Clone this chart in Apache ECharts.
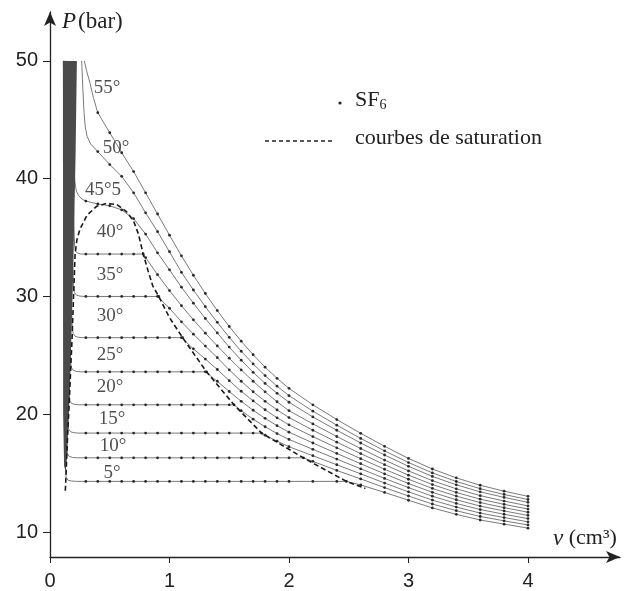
<!DOCTYPE html>
<html><head><meta charset="utf-8">
<script src="https://cdn.jsdelivr.net/npm/echarts@6/dist/echarts.min.js"></script>
<style>html,body{margin:0;padding:0;background:#fff}#c{width:638px;height:591px}</style>
</head><body><div id="c"></div>
<script>
// ---- data ----
const vGrid = [0.3,0.4,0.5,0.6,0.7,0.8,0.9,1.0,1.1,1.2,1.3,1.4,1.5,1.6,1.7,1.8,1.9,2.0,2.2,2.4,2.6,2.8,3.0,3.2,3.4,3.6,3.8,4.0];
const xTicks = [0,1,2,3,4];
const yTicks = [10,20,30,40,50];

const p5  = [14.3,14.3,14.3,14.3,14.3,14.3,14.3,14.3,14.3,14.3,14.3,14.3,14.3,14.3,14.3,14.3,14.3,14.3,14.3,14.3,14.0,13.36,12.7,12.05,11.5,11.02,10.67,10.33];
const p10 = [16.3,16.3,16.3,16.3,16.3,16.3,16.3,16.3,16.3,16.3,16.3,16.3,16.3,16.3,16.3,16.3,16.3,16.3,16.0,15.23,14.51,13.77,13.06,12.38,11.81,11.32,10.95,10.6];
const p15 = [18.4,18.4,18.4,18.4,18.4,18.4,18.4,18.4,18.4,18.4,18.4,18.4,18.4,18.4,18.4,18.22,17.72,17.24,16.48,15.71,14.94,14.16,13.41,12.71,12.12,11.61,11.23,10.87];
const p20 = [20.8,20.8,20.8,20.8,20.8,20.8,20.8,20.8,20.8,20.8,20.8,20.8,20.8,20.3,19.58,18.94,18.36,17.86,17.02,16.19,15.37,14.55,13.77,13.04,12.43,11.91,11.51,11.14];
const p25 = [23.6,23.6,23.6,23.6,23.6,23.6,23.6,23.6,23.6,23.6,23.6,22.8,21.93,21.1,20.34,19.65,19.03,18.48,17.56,16.67,15.8,14.94,14.12,13.37,12.74,12.2,11.79,11.41];
const p30 = [26.5,26.5,26.5,26.5,26.5,26.5,26.5,26.5,26.5,25.55,24.68,23.8,22.85,21.95,21.13,20.38,19.7,19.1,18.1,17.15,16.23,15.33,14.48,13.7,13.05,12.5,12.07,11.68];
const p35 = [30.0,30.0,30.0,30.0,30.0,30.0,30.0,29.0,27.85,26.8,25.79,24.8,23.77,22.8,21.91,21.1,20.37,19.72,18.64,17.63,16.66,15.72,14.83,14.03,13.36,12.79,12.35,11.95];
const p40 = [33.6,33.6,33.6,33.6,33.6,33.3,31.85,30.5,29.22,28.02,26.88,25.8,24.76,23.76,22.8,21.9,21.06,20.3,19.18,18.11,17.09,16.11,15.19,14.36,13.67,13.09,12.63,12.22];
const p455= [38.1,37.85,37.7,37.35,36.6,35.3,33.7,32.26,30.79,29.43,28.13,26.9,25.7,24.59,23.56,22.62,21.78,21.02,19.77,18.64,17.56,16.54,15.58,14.72,14.01,13.41,12.94,12.52];
const p50 = [null,42.3,41.2,40.2,38.8,37.1,35.5,33.8,32.05,30.55,29.13,27.8,26.53,25.35,24.27,23.28,22.38,21.58,20.26,19.07,17.95,16.89,15.9,15.02,14.29,13.68,13.19,12.76];
const p55 = [null,45.6,43.9,42.2,40.6,38.8,37.0,35.2,33.45,31.8,30.25,28.8,27.45,26.2,25.05,24.0,23.05,22.2,20.8,19.55,18.38,17.28,16.25,15.35,14.6,13.97,13.47,13.03];

// liquid branches (steep left parts)
const liq5  = [[0.112,50],[0.118,30],[0.125,18],[0.13,15.2],[0.135,14.65],[0.15,14.4],[0.18,14.33],[0.22,14.3]];
const liq10 = [[0.115,50],[0.125,30],[0.135,19.5],[0.14,17.1],[0.146,16.65],[0.16,16.43],[0.19,16.33],[0.23,16.3]];
const liq15 = [[0.118,50],[0.13,32],[0.145,21],[0.15,19.2],[0.156,18.75],[0.17,18.52],[0.2,18.43],[0.24,18.4]];
const liq20 = [[0.121,50],[0.14,32],[0.155,23.5],[0.16,21.6],[0.166,21.15],[0.18,20.92],[0.21,20.83],[0.25,20.8]];
const liq25 = [[0.125,50],[0.15,34],[0.168,26],[0.174,24.3],[0.18,23.95],[0.195,23.72],[0.225,23.63],[0.26,23.6]];
const liq30 = [[0.13,50],[0.16,36],[0.18,29],[0.187,27.3],[0.194,26.85],[0.21,26.62],[0.24,26.53],[0.28,26.5]];
const liq35 = [[0.14,50],[0.175,39],[0.19,32.5],[0.197,30.9],[0.204,30.35],[0.22,30.12],[0.25,30.03],[0.29,30.0]];
const liq40 = [[0.155,50],[0.19,41],[0.2,36],[0.206,34.3],[0.213,33.85],[0.23,33.67],[0.26,33.6]];
const liq455= [[0.175,50],[0.2,41.5],[0.207,39.8],[0.22,38.95],[0.24,38.55],[0.27,38.25]];
const liq50 = [[0.265,50],[0.275,47.6],[0.285,45.6],[0.295,44.4],[0.31,43.6],[0.34,42.95]];
const liq55 = [[0.288,50],[0.305,49.2],[0.335,48.1],[0.365,46.8]];

// saturation pressure and vapour-end volume of each plateau
const isoVg = [2.48,2.12,1.77,1.54,1.31,1.11,0.91,0.78,null,null,null];
const isoPs = [14.3,16.3,18.4,20.8,23.6,26.5,30.0,33.6,null,null,null];

// saturation curve (dashed)
const satV = [0.128,0.132,0.14,0.148,0.16,0.172,0.185,0.197,0.21,0.225,0.25,0.31,0.39,0.47,0.56,0.64,0.7,0.74,0.78,0.82,0.86,0.91,1.0,1.11,1.31,1.54,1.77,2.12,2.48,2.64];
const satP = [13.5,14.3,16.3,18.4,20.8,23.6,26.5,30.0,33.6,34.8,35.7,36.9,37.65,37.9,37.8,37.2,36.4,35.3,33.6,32.2,30.9,30.0,28.2,26.5,23.6,20.8,18.4,16.3,14.3,13.7];

// dense liquid band outline
const bandPts = [[0.108,50],[0.225,50],[0.214,42],[0.204,37],[0.194,32],[0.18,27],[0.166,22],[0.152,18.5],[0.142,16.2],[0.13,15.2],[0.118,15.6],[0.11,20]];

// temperature labels
const tLabels = [[0.477,47.7,'55°'],[0.552,42.6,'50°'],[0.444,39.07,'45°5'],[0.502,35.5,'40°'],[0.502,31.86,'35°'],[0.502,28.3,'30°'],[0.502,25.0,'25°'],[0.502,22.29,'20°'],[0.519,19.58,'15°'],[0.527,17.29,'10°'],[0.519,15.0,'5°']];

const isoLiq = [liq5,liq10,liq15,liq20,liq25,liq30,liq35,liq40,liq455,liq50,liq55];
const isoP = [p5,p10,p15,p20,p25,p30,p35,p40,p455,p50,p55];

function buildIso(i) {
  const pts = isoLiq[i].map(p => ({value: p, symbol: 'none'}));
  vGrid.forEach((v, j) => { if (isoP[i][j] != null) pts.push({value: [v, isoP[i][j]]}); });
  if (isoVg[i] != null) pts.push({value: [isoVg[i], isoPs[i]]});
  pts.sort((a, b) => a.value[0] - b.value[0]);
  return pts;
}

const serif = '"Liberation Serif", "DejaVu Serif", serif';
const sans = '"Liberation Sans", Arial, sans-serif';

const series = [];
isoP.forEach((_, i) => {
  series.push({
    type: 'line', data: buildIso(i), showAllSymbol: true, symbol: 'circle', symbolSize: 2.8,
    itemStyle: {color: '#2a2a2a'}, lineStyle: {color: '#7a7a7a', width: 1},
    silent: true, animation: false, z: 3
  });
});
series.push({
  type: 'custom', silent: true, z: 4, animation: false,
  renderItem: (params, api) => ({
    type: 'polygon',
    shape: {points: bandPts.map(p => api.coord(p))},
    style: {fill: '#4a4a4a'}
  }),
  data: [[0.15, 30]]
});
series.push({
  type: 'line', data: satV.map((v, i) => [v, satP[i]]), symbol: 'none',
  lineStyle: {color: '#1a1a1a', width: 1.6, type: [5, 3]}, silent: true, animation: false, z: 5
});
series.push({
  type: 'scatter', symbolSize: 0.1, itemStyle: {color: 'transparent'}, silent: true, animation: false, z: 6,
  data: tLabels.map(t => ({value: [t[0], t[1]], name: t[2]})),
  label: {show: true, position: 'inside', formatter: '{b}', color: '#222', fontFamily: serif, fontSize: 19}
});

const chart = echarts.init(document.getElementById('c'));
chart.setOption({
  animation: false,
  grid: {left: 50, top: 12, width: 570, height: 546, containLabel: false},
  xAxis: {
    type: 'value', min: 0, max: 4.77,
    axisLine: {show: true, lineStyle: {color: '#222', width: 1.3}, symbol: ['none', 'arrow'], symbolSize: [9, 14]},
    axisTick: {show: true, length: 6, lineStyle: {color: '#222'}, customValues: xTicks},
    axisLabel: {customValues: xTicks, margin: 14, color: '#222', fontFamily: sans, fontSize: 20},
    splitLine: {show: false}
  },
  yAxis: {
    type: 'value', min: 7.88, max: 54.15,
    axisLine: {show: true, lineStyle: {color: '#222', width: 1.3}, symbol: ['none', 'arrow'], symbolSize: [9, 14]},
    axisTick: {show: true, length: 7, lineStyle: {color: '#222'}, customValues: yTicks},
    axisLabel: {customValues: yTicks, margin: 12, color: '#222', fontFamily: sans, fontSize: 20},
    splitLine: {show: false}
  },
  graphic: [
    {type: 'text', left: 62, top: 10, style: {
      text: '{i|P}{n|(bar)}', rich: {
        i: {fontFamily: serif, fontStyle: 'italic', fontSize: 23, fill: '#222'},
        n: {fontFamily: serif, fontSize: 23, fill: '#222', padding: [0, 0, 0, 2]}
      }}},
    {type: 'text', left: 553, top: 527, style: {
      text: '{i|v}{n| (cm³)}', rich: {
        i: {fontFamily: serif, fontStyle: 'italic', fontSize: 23, fill: '#222'},
        n: {fontFamily: serif, fontSize: 22, fill: '#222'}
      }}},
    {type: 'circle', shape: {cx: 340, cy: 103, r: 1.6}, style: {fill: '#222'}},
    {type: 'text', left: 355, top: 89, style: {
      text: '{a|SF}{s|6}', rich: {
        a: {fontFamily: serif, fontSize: 22, fill: '#222'},
        s: {fontFamily: serif, fontSize: 14, fill: '#222', padding: [10, 0, 0, 0]}
      }}},
    {type: 'line', shape: {x1: 265, y1: 141, x2: 333, y2: 141}, style: {stroke: '#222', lineWidth: 1.3, lineDash: [4, 3]}},
    {type: 'text', left: 355, top: 127, style: {text: 'courbes de saturation', fontFamily: serif, fontSize: 22, fill: '#222'}}
  ],
  series: series
});
</script></body></html>
